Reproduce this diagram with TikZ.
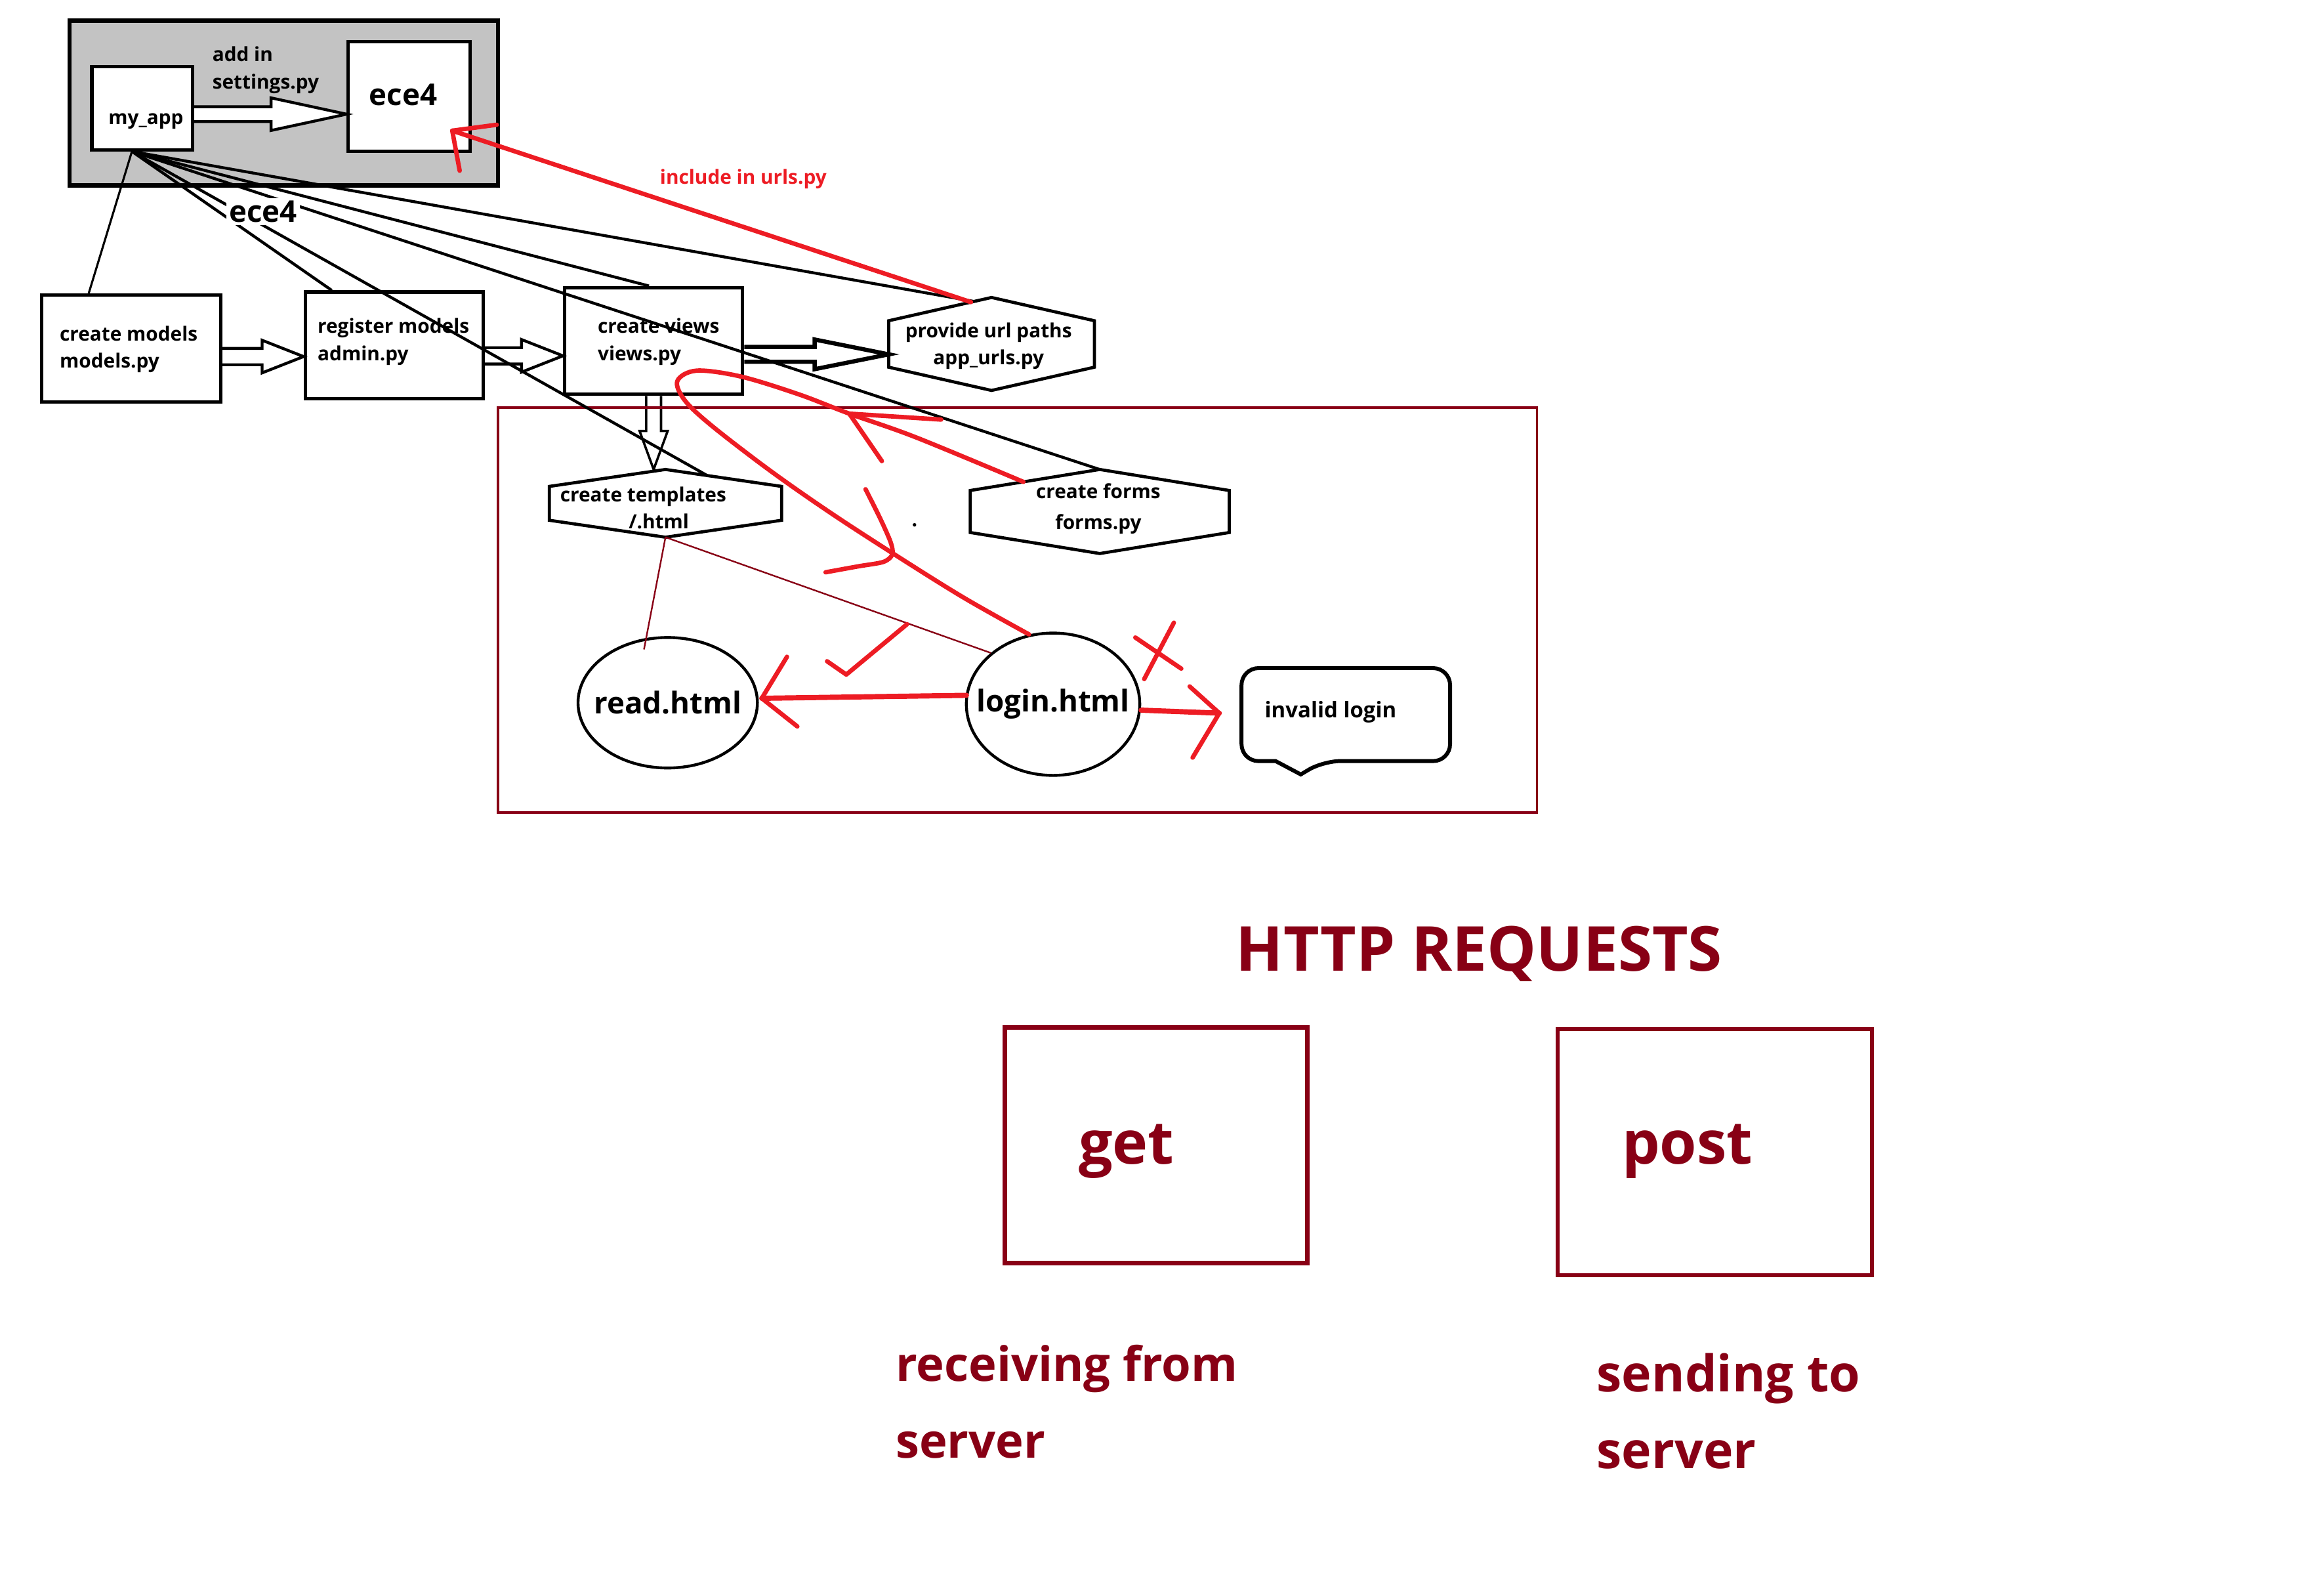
\documentclass[tikz,border=0pt]{standalone}
\usepackage{fontspec}
\setmainfont{Open Sans}
\usepackage{tikz}
\usetikzlibrary{calc, fit, shapes.geometric}

\definecolor{paintRed}{HTML}{ED1C24}
\definecolor{darkRed}{HTML}{880015}
\definecolor{paintGray}{HTML}{C3C3C3}

\tikzset{
    fileBox/.style={draw=black, line width=1.3pt, fill=white, inner sep=0pt},
    hexLine/.style={draw=black, line width=1.2pt, fill=white, line join=miter},
    smallLabel/.style={font=\fontsize{7.5}{10.4}\selectfont\bfseries, inner sep=0pt, align=left},
    bigLabel/.style={font=\fontsize{11.5}{14}\selectfont\bfseries, inner sep=0pt},
    pageBall/.style={ellipse, draw=black, line width=1.1pt, fill=white, inner sep=0pt},
    fatArrow/.style={draw=black, fill=white, line width=1.1pt, line join=miter},
    hubLink/.style={draw=black, line width=1.1pt},
    thinLink/.style={draw=darkRed, line width=0.6pt},
    redPen/.style={draw=paintRed, line width=1.7pt, line cap=round, line join=round},
    reqBox/.style={draw=darkRed, line width=1.6pt, inner sep=0pt},
    reqLabel/.style={text=darkRed, inner sep=0pt, align=left}
}

\newcommand{\DrawHexa}[3]{
    % #1: name, #2: top left corner, #3: bottom right corner
    \node[inner sep=0pt, fit={#2 #3}] (#1) {};
    \coordinate (#1-nw) at ($(#1.north west)!0.25!(#1.south west)$);
    \coordinate (#1-sw) at ($(#1.north west)!0.75!(#1.south west)$);
    \coordinate (#1-ne) at ($(#1.north east)!0.25!(#1.south east)$);
    \coordinate (#1-se) at ($(#1.north east)!0.75!(#1.south east)$);
    \draw[hexLine] (#1.north) -- (#1-ne) -- (#1-se) -- (#1.south) -- (#1-sw) -- (#1-nw) -- cycle;
}
\newcommand{\DrawFatArrow}[6][]{
    % #1: extra options, #2: tail, #3: tip, #4: shaft half, #5: head half, #6: head length
    \draw[fatArrow, #1] ($(#2)+(0,-#4)$) -- ($(#3)+(-#6,-#4)$) -- ($(#3)+(-#6,-#5)$) -- (#3)
        -- ($(#3)+(-#6,#5)$) -- ($(#3)+(-#6,#4)$) -- ($(#2)+(0,#4)$);
}

\begin{document}
\begin{tikzpicture}[x=0.2mm, y=-0.2mm]
    \useasboundingbox (0,0) rectangle (1568,1069);

    % Project block
    \draw[fill=paintGray, draw=black, line width=1.6pt] (47,14) rectangle (336,125);
    \node[fileBox, fit={(62,45) (130,101)}] (myapp) {};
    \node[fileBox, fit={(235,28) (317,102)}] (ece4) {};
    \node[smallLabel, anchor=base] (myappTxt) at (98.5,84) {my\_app};
    \node[bigLabel, anchor=base] (ece4Txt) at (272,71) {ece4};
    \node[smallLabel, anchor=west] (settingsTxt) at (143,47.3) {add in\\settings.py};
    \coordinate (setA) at ($(myapp.east)+(0,4)$);
    \coordinate (setB) at (setA -| ece4.west);
    \DrawFatArrow{setA}{setB}{5}{11}{51}

    % Steps
    \node[fileBox, fit={(28,199) (149,271)}] (models) {};
    \node[fileBox, fit={(206,197) (326,269)}] (register) {};
    \node[fileBox, fit={(381,194) (501,266)}] (views) {};
    \DrawHexa{urls}{(600,201)}{(738,263)}
    \DrawHexa{tmpl}{(371,317)}{(527,362)}
    \DrawHexa{forms}{(655,317)}{(829,373)}

    \node[smallLabel, anchor=west] (modelsTxt) at (40,235.5) {create models\\models.py};
    \node[smallLabel, anchor=west] (registerTxt) at (214,230.5) {register models\\admin.py};
    \node[smallLabel, anchor=west] (viewsTxt) at (403,230.5) {create views\\views.py};
    \node[smallLabel, align=center] (urlsTxt) at (667,233.5) {provide url paths\\app\_urls.py};
    \node[smallLabel, align=center] (tmplTxt) at (434,342.5) {create templates\\\hspace*{12pt}/.html};
    \node[smallLabel, align=center, font=\fontsize{7.5}{11.9}\selectfont\bfseries] (formsTxt) at (741,343) {create forms\\forms.py};

    % Hollow arrows between steps
    \coordinate (mrA) at ($(models.east)+(0,5.5)$);
    \coordinate (mrB) at (mrA -| register.west);
    \DrawFatArrow{mrA}{mrB}{5.5}{11}{28}
    \coordinate (rvA) at ($(register.east)+(0,7)$);
    \coordinate (rvB) at (rvA -| views.west);
    \DrawFatArrow{rvA}{rvB}{5.5}{11}{28}
    \coordinate (vuA) at ($(views.east)+(0,9)$);
    \coordinate (vuB) at (vuA -| urls.west);
    \DrawFatArrow[line width=1.6pt]{vuA}{vuB}{5}{10}{50}
    \coordinate (vtA) at (views.south);
    \coordinate (vtB) at (vtA |- tmpl.north);
    \draw[fatArrow, line width=0.9pt] ($(vtA)+(-5,0)$) -- ($(vtB)+(-5,-26)$) -- ($(vtB)+(-9.5,-26)$) -- (vtB)
        -- ($(vtB)+(9.5,-26)$) -- ($(vtB)+(5,-26)$) -- ($(vtA)+(5,0)$);

    % Pages frame
    \draw[darkRed, line width=0.9pt] (336,275) rectangle (1037,548);
    \node[pageBall, minimum width=24.2mm, minimum height=17.6mm, label={[bigLabel]center:read.html}] (read) at (450.5,474) {};
    \node[pageBall, minimum width=23.4mm, minimum height=19.2mm, label={[bigLabel]center:login.html}] (login) at (710.5,475) {};
    \node[inner sep=0pt, fit={(838,451) (978,513)}] (bubble) {};
    \draw[line width=1.5pt, rounded corners=6.5pt] ($(bubble.south west)+(23,0)$) -- (bubble.south west) -- (bubble.north west)
        -- (bubble.north east) -- (bubble.south east) -- ($(bubble.south west)+(55,0)$) [sharp corners]
        -- ($(bubble.south west)+(40,9)$) -- cycle;
    \node[smallLabel, font=\fontsize{8.3}{10}\selectfont\bfseries, anchor=base west] (bubbleTxt) at (853,484) {invalid login};

    % Links from my_app
    \coordinate (hub) at ($(myapp.south)+(-7,0)$);
    \draw[hubLink, line width=0.8pt] (hub) -- ($(models.north west)+(33,0)$);
    \draw[hubLink] (hub) -- ($(register.north west)+(19,0)$);
    \draw[hubLink] (hub) -- ($(tmpl.north)!0.36!(tmpl-ne)$);
    \draw[hubLink] (hub) -- ($(views.north west)+(58,0)$);
    \draw[hubLink] (hub) -- (forms.north);
    \draw[hubLink] (hub) -- ($(urls.north)!0.17!(urls-nw)$);
    \node[bigLabel, fill=white, inner sep=1pt, anchor=base] (hubTxt) at (177.5,150) {ece4};

    % Template links
    \draw[thinLink] (tmpl.south) -- ($(read.north)+(-16,9)$);
    \draw[thinLink] (tmpl.south) -- (login.north west);

    % Red marks
    \coordinate (inclA) at ($(urls.north)!0.2!(urls-nw)$);
    \coordinate (inclB) at ($(ece4.south east)+(-13,-15)$);
    \draw[redPen] (inclA) -- (inclB);
    \draw[redPen] (inclB) -- +(30,-4) (inclB) -- +(5,27);
    \node[smallLabel, text=paintRed, anchor=base] (inclTxt) at (501.5,124) {include in urls.py};

    \coordinate (lrA) at ($(login.west)+(1,-6)$);
    \coordinate (lrB) at ($(read.east)+(2,-3)$);
    \draw[redPen, line width=2pt] (lrA) -- (lrB);
    \draw[redPen] (lrB) -- +(17,-28) (lrB) -- +(24,19);

    \coordinate (liA) at ($(login.east)+(0,4)$);
    \coordinate (liB) at ($(bubble.west)+(-15,-1)$);
    \draw[redPen, line width=2pt] (liA) -- (liB);
    \draw[redPen] (liB) -- +(-20,-18) (liB) -- +(-18,30);
    \draw[redPen] (766,430) -- (797,451) (792,420) -- (772,458);
    \draw[redPen] (558,446) -- (571,455) -- (612,421);

    \coordinate (loopA) at ($(forms.north)!0.59!(forms-nw)$);
    \draw[redPen] plot[smooth, tension=0.55] coordinates {(loopA) (618,295) (573,279) (539,266) (500,254)
        (470,250) (457,257) (462,270) (480,287) (519,317) (559,345) (602,373) (650,403) (login.109)};
    \draw[redPen] (573,279) -- (635,283) (573,279) -- (595,311);
    \draw[redPen] plot[smooth, tension=0.5] coordinates {(584,330) (594,350) (601,366) (602,374) (596,379) (579,382) (557,386)};
    \fill (617,354) circle[radius=1.2];

    % HTTP requests
    \node[reqLabel, font=\fontsize{23.8}{27}\selectfont\bfseries, anchor=base] (httpTxt) at (998,655) {HTTP REQUESTS};
    \node[reqBox, fit={(678,693) (882,852)}] (getBox) {};
    \node[reqBox, fit={(1051,694) (1263,860)}] (postBox) {};
    \node[reqLabel, font=\fontsize{23}{27}\selectfont\bfseries, anchor=base] (getTxt) at (760,785) {get};
    \node[reqLabel, font=\fontsize{23}{27}\selectfont\bfseries, anchor=base] (postTxt) at (1138.5,785) {post};
    \node[reqLabel, font=\fontsize{18.2}{29.5}\selectfont\bfseries, anchor=west] (getNote) at (604,945.6) {receiving from\\server};
    \node[reqLabel, font=\fontsize{19.4}{29.5}\selectfont\bfseries, anchor=west] (postNote) at (1077,952) {sending to\\server};
\end{tikzpicture}
\end{document}
